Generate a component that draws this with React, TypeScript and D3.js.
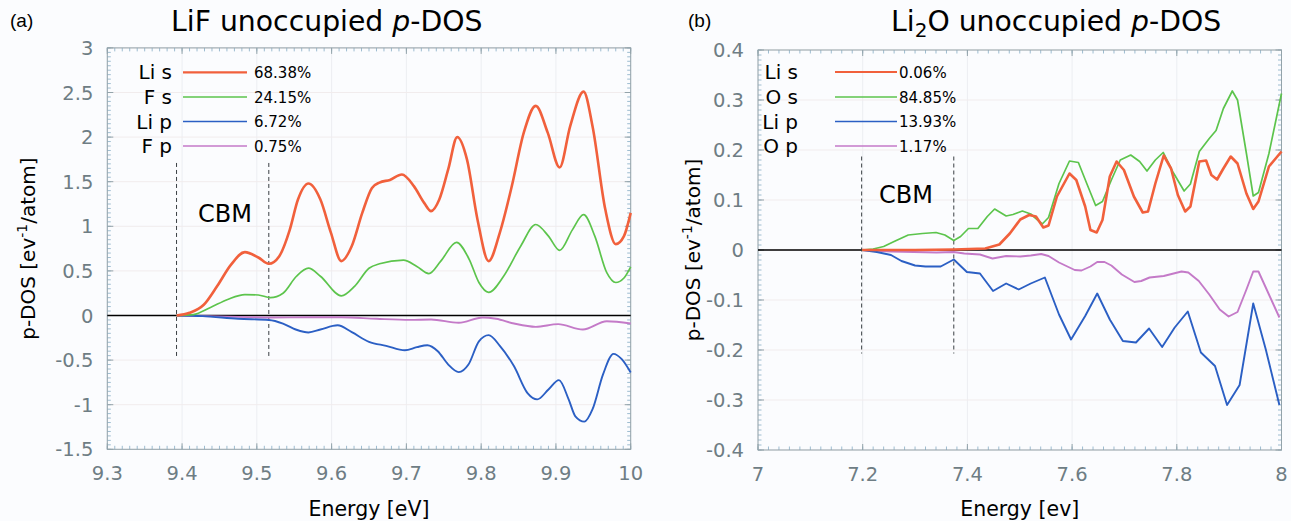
import React from "react";
import * as d3 from "d3";

type Pt = [number, number];

// ---------- Panel (a): LiF ----------
const lifXTicks = [9.3, 9.4, 9.5, 9.6, 9.7, 9.8, 9.9, 10];
const lifXTickLabels = ["9.3", "9.4", "9.5", "9.6", "9.7", "9.8", "9.9", "10"];
const lifYTicks = [-1.5, -1, -0.5, 0, 0.5, 1, 1.5, 2, 2.5, 3];
const lifYTickLabels = ["-1.5", "-1", "-0.5", "0", "0.5", "1", "1.5", "2", "2.5", "3"];
const lifCBM = [9.3926, 9.516];
const lifLegendNames = ["Li s", "F s", "Li p", "F p"];
const lifLegendPct = ["68.38%", "24.15%", "6.72%", "0.75%"];

const lifLiS: Pt[] = [
  [9.3927, 0], [9.41, 0.03], [9.429, 0.12], [9.447, 0.33], [9.4655, 0.57], [9.484, 0.71],
  [9.502, 0.65], [9.516, 0.58], [9.53, 0.665], [9.544, 0.96], [9.555, 1.3], [9.569, 1.48],
  [9.585, 1.3], [9.599, 0.93], [9.613, 0.61], [9.627, 0.78], [9.641, 1.15], [9.654, 1.43],
  [9.664, 1.49], [9.678, 1.52], [9.694, 1.58], [9.71, 1.45], [9.724, 1.26], [9.733, 1.17],
  [9.744, 1.3], [9.756, 1.64], [9.768, 2.0], [9.781, 1.75], [9.795, 1.08], [9.81, 0.61],
  [9.825, 0.93], [9.841, 1.45], [9.857, 2.05], [9.873, 2.35], [9.889, 2.05], [9.905, 1.66],
  [9.919, 2.12], [9.937, 2.51], [9.949, 2.12], [9.966, 1.19], [9.98, 0.8], [9.991, 0.89],
  [10.0, 1.15],
];
const lifFS: Pt[] = [
  [9.3927, 0], [9.415, 0.01], [9.438, 0.09], [9.461, 0.18], [9.484, 0.235], [9.502, 0.23],
  [9.518, 0.2], [9.535, 0.25], [9.553, 0.44], [9.569, 0.53], [9.585, 0.44], [9.613, 0.22],
  [9.631, 0.33], [9.65, 0.53], [9.664, 0.58], [9.696, 0.62], [9.714, 0.55], [9.73, 0.47],
  [9.746, 0.61], [9.767, 0.82], [9.784, 0.63], [9.797, 0.37], [9.81, 0.26], [9.83, 0.44],
  [9.853, 0.78], [9.873, 1.02], [9.89, 0.89], [9.905, 0.73], [9.922, 0.96], [9.937, 1.13],
  [9.952, 0.89], [9.968, 0.48], [9.98, 0.37], [9.991, 0.42], [10.0, 0.545],
];
const lifLiP: Pt[] = [
  [9.393, 0], [9.428, -0.007], [9.475, -0.037], [9.516, -0.05], [9.535, -0.09], [9.553, -0.16],
  [9.569, -0.19], [9.585, -0.157], [9.608, -0.11], [9.627, -0.187], [9.65, -0.295],
  [9.673, -0.34], [9.698, -0.39], [9.714, -0.355], [9.728, -0.333], [9.742, -0.4],
  [9.756, -0.55], [9.77, -0.635], [9.783, -0.55], [9.797, -0.29], [9.81, -0.22],
  [9.825, -0.34], [9.844, -0.57], [9.862, -0.87], [9.875, -0.94], [9.89, -0.83],
  [9.904, -0.725], [9.917, -0.94], [9.926, -1.13], [9.938, -1.19], [9.949, -1.05],
  [9.963, -0.66], [9.977, -0.43], [9.988, -0.49], [10.0, -0.64],
];
const lifFP: Pt[] = [
  [9.393, 0], [9.475, -0.015], [9.52, -0.022], [9.567, -0.019], [9.613, -0.019], [9.66, -0.037],
  [9.705, -0.049], [9.733, -0.045], [9.77, -0.082], [9.802, -0.022], [9.82, -0.037],
  [9.844, -0.09], [9.873, -0.127], [9.903, -0.097], [9.936, -0.157], [9.968, -0.064],
  [10.0, -0.09],
];

// ---------- Panel (b): Li2O ----------
const li2oXTicks = [7, 7.2, 7.4, 7.6, 7.8, 8];
const li2oXTickLabels = ["7", "7.2", "7.4", "7.6", "7.8", "8"];
const li2oYTicks = [-0.4, -0.3, -0.2, -0.1, 0, 0.1, 0.2, 0.3, 0.4];
const li2oYTickLabels = ["-0.4", "-0.3", "-0.2", "-0.1", "0", "0.1", "0.2", "0.3", "0.4"];
const li2oCBM = [7.198, 7.374];
const li2oLegendNames = ["Li s", "O s", "Li p", "O p"];
const li2oLegendPct = ["0.06%", "84.85%", "13.93%", "1.17%"];

const li2oLiS: Pt[] = [
  [7.199, 0], [7.3, 0], [7.374, 0.001], [7.434, 0.003], [7.461, 0.011], [7.481, 0.033],
  [7.501, 0.061], [7.518, 0.07], [7.531, 0.067], [7.545, 0.045], [7.555, 0.049], [7.571, 0.107],
  [7.595, 0.153], [7.608, 0.14], [7.625, 0.087], [7.635, 0.04], [7.647, 0.035], [7.658, 0.06],
  [7.672, 0.147], [7.685, 0.177], [7.699, 0.16], [7.718, 0.107], [7.735, 0.075], [7.745, 0.077],
  [7.759, 0.133], [7.775, 0.189], [7.789, 0.163], [7.802, 0.11], [7.816, 0.077], [7.826, 0.087],
  [7.843, 0.177], [7.856, 0.179], [7.866, 0.15], [7.877, 0.141], [7.889, 0.163], [7.903, 0.187],
  [7.916, 0.173], [7.933, 0.113], [7.946, 0.082], [7.956, 0.097], [7.976, 0.167], [8.0, 0.197],
];
const li2oOS: Pt[] = [
  [7.199, 0], [7.22, 0.002], [7.24, 0.007], [7.26, 0.017], [7.287, 0.03], [7.314, 0.033],
  [7.34, 0.035], [7.357, 0.03], [7.374, 0.019], [7.387, 0.027], [7.402, 0.043], [7.42, 0.043],
  [7.438, 0.067], [7.452, 0.082], [7.474, 0.068], [7.487, 0.071], [7.505, 0.078], [7.521, 0.072],
  [7.543, 0.052], [7.555, 0.065], [7.575, 0.133], [7.595, 0.178], [7.612, 0.175], [7.628, 0.133],
  [7.645, 0.089], [7.658, 0.097], [7.675, 0.14], [7.692, 0.18], [7.712, 0.19], [7.729, 0.177],
  [7.743, 0.158], [7.759, 0.18], [7.774, 0.195], [7.792, 0.157], [7.814, 0.118], [7.826, 0.132],
  [7.843, 0.197], [7.862, 0.223], [7.875, 0.239], [7.889, 0.283], [7.906, 0.318], [7.916, 0.3],
  [7.933, 0.193], [7.946, 0.108], [7.956, 0.115], [7.976, 0.193], [8.0, 0.313],
];
const li2oLiP: Pt[] = [
  [7.199, 0], [7.227, -0.004], [7.254, -0.01], [7.274, -0.022], [7.3, -0.031], [7.32, -0.033],
  [7.349, -0.033], [7.374, -0.019], [7.399, -0.044], [7.424, -0.047], [7.449, -0.082],
  [7.474, -0.067], [7.498, -0.079], [7.521, -0.067], [7.548, -0.055], [7.575, -0.129],
  [7.598, -0.179], [7.625, -0.132], [7.648, -0.087], [7.672, -0.139], [7.697, -0.182],
  [7.722, -0.185], [7.747, -0.157], [7.772, -0.194], [7.796, -0.155], [7.821, -0.123],
  [7.846, -0.205], [7.873, -0.232], [7.896, -0.31], [7.92, -0.27], [7.946, -0.107],
  [7.97, -0.199], [7.996, -0.31],
];
const li2oOP: Pt[] = [
  [7.199, 0], [7.254, -0.003], [7.341, -0.005], [7.374, -0.004], [7.394, -0.007], [7.424, -0.009],
  [7.448, -0.017], [7.474, -0.012], [7.501, -0.013], [7.521, -0.011], [7.541, -0.008],
  [7.555, -0.012], [7.575, -0.025], [7.605, -0.04], [7.618, -0.041], [7.635, -0.033],
  [7.648, -0.024], [7.662, -0.024], [7.675, -0.031], [7.695, -0.049], [7.719, -0.064],
  [7.732, -0.062], [7.748, -0.055], [7.775, -0.052], [7.809, -0.043], [7.822, -0.045],
  [7.842, -0.062], [7.862, -0.089], [7.882, -0.119], [7.899, -0.133], [7.916, -0.124],
  [7.933, -0.079], [7.946, -0.043], [7.956, -0.043], [7.976, -0.089], [7.996, -0.135],
];

const COLORS = ["#f1603c", "#5cc44c", "#2b5fc4", "#c47ac8"];
const WIDTHS = [2.6, 1.7, 1.9, 1.9];
const FONT = "'DejaVu Sans', Verdana, sans-serif";
const TICK_COLOR = "#6e7d84";

interface PanelProps {
  left: number; right: number; top: number; bottom: number;
  xDomain: [number, number]; yDomain: [number, number];
  xTicks: number[]; xTickLabels: string[]; xMinorStep: number;
  yTicks: number[]; yTickLabels: string[]; yMinorStep: number;
  series: Pt[][]; smooth: boolean;
  cbm: number[]; cbmRange: [number, number]; cbmText: [number, number];
  legendNames: string[]; legendPct: string[];
  legendLabelX: number; legendLineX: [number, number]; legendPctX: number; legendY: number[];
  xLabel: string; yLabelX: number;
}

function range(a: number, b: number, step: number): number[] {
  const out: number[] = [];
  const n = Math.round((b - a) / step);
  for (let i = 0; i <= n; i++) out.push(a + i * step);
  return out;
}

function Panel(p: PanelProps) {
  const x = d3.scaleLinear().domain(p.xDomain).range([p.left, p.right]);
  const y = d3.scaleLinear().domain(p.yDomain).range([p.bottom, p.top]);
  const line = d3
    .line<Pt>()
    .x((d) => x(d[0]))
    .y((d) => y(d[1]))
    .curve(p.smooth ? d3.curveMonotoneX : d3.curveLinear);
  const xMinor = range(p.xDomain[0], p.xDomain[1], p.xMinorStep);
  const yMinor = range(p.yDomain[0], p.yDomain[1], p.yMinorStep);
  const major = 6, minor = 3.5;
  const frame = "#93a3aa";
  const tickC = "#9dbcd0";
  return (
    <g>
      {p.xTicks.map((t, i) => (
        <line key={"gx" + i} x1={x(t)} x2={x(t)} y1={p.top} y2={p.bottom} stroke="#eceef2" strokeWidth={1} />
      ))}
      {p.yTicks.map((t, i) => (
        <line key={"gy" + i} x1={p.left} x2={p.right} y1={y(t)} y2={y(t)} stroke="#f1eced" strokeWidth={1} />
      ))}
      {xMinor.map((t, i) => (
        <g key={"mx" + i}>
          <line x1={x(t)} x2={x(t)} y1={p.bottom} y2={p.bottom - minor} stroke={tickC} strokeWidth={1} />
          <line x1={x(t)} x2={x(t)} y1={p.top} y2={p.top + minor} stroke={tickC} strokeWidth={1} />
        </g>
      ))}
      {yMinor.map((t, i) => (
        <g key={"my" + i}>
          <line x1={p.left} x2={p.left + minor} y1={y(t)} y2={y(t)} stroke={tickC} strokeWidth={1} />
          <line x1={p.right} x2={p.right - minor} y1={y(t)} y2={y(t)} stroke={tickC} strokeWidth={1} />
        </g>
      ))}
      {p.xTicks.map((t, i) => (
        <g key={"Mx" + i}>
          <line x1={x(t)} x2={x(t)} y1={p.bottom} y2={p.bottom - major} stroke={frame} strokeWidth={1} />
          <line x1={x(t)} x2={x(t)} y1={p.top} y2={p.top + major} stroke={frame} strokeWidth={1} />
        </g>
      ))}
      {p.yTicks.map((t, i) => (
        <g key={"My" + i}>
          <line x1={p.left} x2={p.left + major} y1={y(t)} y2={y(t)} stroke={frame} strokeWidth={1} />
          <line x1={p.right} x2={p.right - major} y1={y(t)} y2={y(t)} stroke={frame} strokeWidth={1} />
        </g>
      ))}
      <rect x={p.left} y={p.top} width={p.right - p.left} height={p.bottom - p.top} fill="none" stroke={frame} strokeWidth={1} />
      {p.xTicks.map((t, i) => (
        <text key={"lx" + i} x={x(t)} y={p.bottom + 31} textAnchor="middle" fontFamily={FONT} fontSize={19.5} fill={TICK_COLOR}>
          {p.xTickLabels[i]}
        </text>
      ))}
      {p.yTicks.map((t, i) => (
        <text key={"ly" + i} x={p.left - 14} y={y(t) + 7} textAnchor="end" fontFamily={FONT} fontSize={19.5} fill={TICK_COLOR}>
          {p.yTickLabels[i]}
        </text>
      ))}
      <line x1={p.left} x2={p.right} y1={y(0)} y2={y(0)} stroke="#000" strokeWidth={1.6} />
      {p.cbm.map((c, i) => (
        <line key={"cbm" + i} x1={x(c)} x2={x(c)} y1={y(p.cbmRange[0])} y2={y(p.cbmRange[1])} stroke="#3a3f44" strokeWidth={1} strokeDasharray="4,3" />
      ))}
      <text x={p.cbmText[0]} y={p.cbmText[1]} fontFamily={FONT} fontSize={24} fill="#000">CBM</text>
      {p.series.map((s, i) => i).reverse().map((i) => (
        <path key={"s" + i} d={line(p.series[i]) || ""} fill="none" stroke={COLORS[i]} strokeWidth={WIDTHS[i]} strokeLinejoin="round" />
      ))}
      {p.legendNames.map((n, i) => (
        <g key={"lg" + i}>
          <text x={p.legendLabelX} y={p.legendY[i] + 7} textAnchor="end" fontFamily={FONT} fontSize={20} fill="#000">{n}</text>
          <line x1={p.legendLineX[0]} x2={p.legendLineX[1]} y1={p.legendY[i]} y2={p.legendY[i]} stroke={COLORS[i]} strokeWidth={WIDTHS[i] * 0.85} />
          <text x={p.legendPctX} y={p.legendY[i] + 5.5} fontFamily={FONT} fontSize={15} fill="#000">{p.legendPct[i]}</text>
        </g>
      ))}
      <text x={(p.left + p.right) / 2} y={516} textAnchor="middle" fontFamily={FONT} fontSize={20.5} fill="#000">{p.xLabel}</text>
      <text transform={`translate(${p.yLabelX},${(p.top + p.bottom) / 2}) rotate(-90)`} textAnchor="middle" fontFamily={FONT} fontSize={20} fill="#000">
        p-DOS [ev<tspan dy={-8} fontSize={14}>-1</tspan><tspan dy={8}>/atom]</tspan>
      </text>
    </g>
  );
}

export default function App() {
  return (
    <svg width={1291} height={521} style={{ position: "absolute", left: 0, top: 0, background: "#fbfcfe" }}>
      <rect x={0} y={0} width={1291} height={521} fill="#fbfcfe" />
      <text x={10} y={27} fontFamily="'Liberation Sans', Arial, sans-serif" fontSize={19} fill="#000">(a)</text>
      <text x={688} y={27} fontFamily="'Liberation Sans', Arial, sans-serif" fontSize={19} fill="#000">(b)</text>
      <text x={171} y={31} fontFamily={FONT} fontSize={28.3} fill="#000">
        LiF unoccupied <tspan fontStyle="italic">p</tspan>-DOS
      </text>
      <text x={891} y={31} fontFamily={FONT} fontSize={28.3} fill="#000">
        Li<tspan dy={6} fontSize={20}>2</tspan><tspan dy={-6}>O unoccupied </tspan><tspan fontStyle="italic">p</tspan>-DOS
      </text>
      <Panel
        left={107.3} right={630.7} top={47.9} bottom={449.3}
        xDomain={[9.3, 10]} yDomain={[-1.5, 3]}
        xTicks={lifXTicks} xTickLabels={lifXTickLabels} xMinorStep={0.01}
        yTicks={lifYTicks} yTickLabels={lifYTickLabels} yMinorStep={0.05}
        series={[lifLiS, lifFS, lifLiP, lifFP]} smooth={true}
        cbm={lifCBM} cbmRange={[1.71, -0.486]} cbmText={[198, 222]}
        legendNames={lifLegendNames} legendPct={lifLegendPct}
        legendLabelX={172} legendLineX={[183, 247]} legendPctX={254} legendY={[72.3, 97, 121.5, 146]}
        xLabel="Energy [eV]" yLabelX={35}
      />
      <Panel
        left={758} right={1281.5} top={50} bottom={450}
        xDomain={[7, 8]} yDomain={[-0.4, 0.4]}
        xTicks={li2oXTicks} xTickLabels={li2oXTickLabels} xMinorStep={0.02}
        yTicks={li2oYTicks} yTickLabels={li2oYTickLabels} yMinorStep={0.01}
        series={[li2oLiS, li2oOS, li2oLiP, li2oOP]} smooth={false}
        cbm={li2oCBM} cbmRange={[0.187, -0.207]} cbmText={[879, 203]}
        legendNames={li2oLegendNames} legendPct={li2oLegendPct}
        legendLabelX={798} legendLineX={[835, 897]} legendPctX={899} legendY={[72, 97, 121.5, 146]}
        xLabel="Energy [ev]" yLabelX={700}
      />
    </svg>
  );
}
